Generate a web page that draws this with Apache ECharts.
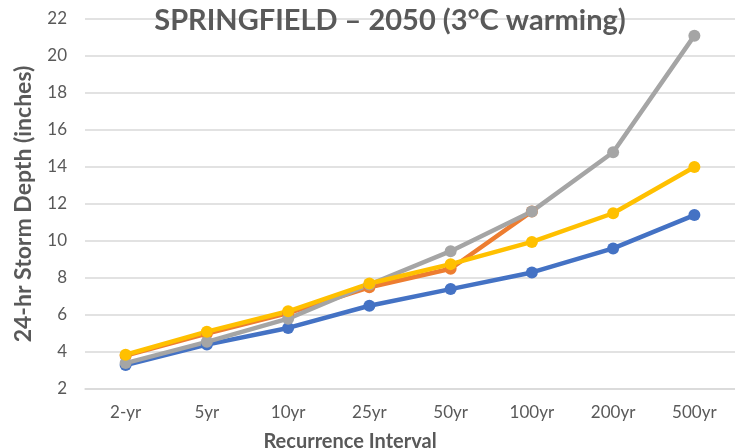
<!DOCTYPE html>
<html>
<head>
<meta charset="utf-8">
<script src="https://cdn.jsdelivr.net/npm/echarts@6/dist/echarts.min.js"></script>
<style>
  html, body { margin: 0; padding: 0; background: #fff; }
  #chart { width: 735px; height: 448px; }
</style>
</head>
<body>
<div id="chart"></div>
<script>
// Recurrence intervals on the category axis
const intervals = ['2-yr', '5yr', '10yr', '25yr', '50yr', '100yr', '200yr', '500yr'];

// 24-hr storm depth (inches) for each scenario
const seriesBlue   = [3.3, 4.4, 5.3, 6.5, 7.4, 8.3, 9.6, 11.4];
const seriesOrange = [3.8, 5.0, 6.1, 7.5, 8.5, 11.6, null, null];
const seriesGray   = [3.4, 4.55, 5.8, 7.65, 9.45, 11.6, 14.8, 21.1];
const seriesYellow = [3.85, 5.1, 6.2, 7.7, 8.75, 9.95, 11.5, 14.0];

const yTicks = { min: 2, max: 22, step: 2 };

const FONT = 'Lato, "Open Sans", sans-serif';
const TEXT = '#595959';

function lineSeries(name, data, color) {
  return {
    name: name,
    type: 'line',
    data: data,
    symbol: 'circle',
    symbolSize: 12,
    lineStyle: { width: 4.5, color: color },
    itemStyle: { color: color },
    connectNulls: false,
    animation: false
  };
}

const chart = echarts.init(document.getElementById('chart'), null, { renderer: 'canvas' });
chart.setOption({
  backgroundColor: '#ffffff',
  title: [
    {
      text: 'SPRINGFIELD \u2013 2050 (3\u00B0C warming)',
      left: 385, top: 1, textAlign: 'center',
      textStyle: { fontFamily: FONT, fontSize: 29, fontWeight: 'bold', color: TEXT }
    },
    {
      text: 'Recurrence Interval',
      left: 345, top: 427, textAlign: 'center',
      textStyle: { fontFamily: FONT, fontSize: 20, fontWeight: 'bold', color: TEXT }
    }
  ],
  grid: { left: 85, top: 19, width: 666, bottom: 59, containLabel: false },
  xAxis: {
    type: 'category',
    data: intervals,
    boundaryGap: true,
    axisLine: { show: true, lineStyle: { color: '#d9d9d9', width: 1.5 } },
    axisTick: { show: false },
    axisLabel: { fontFamily: FONT, fontSize: 17, color: TEXT, margin: 15 }
  },
  yAxis: {
    type: 'value',
    min: yTicks.min, max: yTicks.max, interval: yTicks.step,
    name: '24-hr Storm Depth (inches)',
    nameLocation: 'middle',
    nameGap: 50,
    nameTextStyle: { fontFamily: FONT, fontSize: 23, fontWeight: 'bold', color: TEXT },
    axisLine: { show: false },
    axisTick: { show: false },
    axisLabel: { fontFamily: FONT, fontSize: 17, color: TEXT, margin: 18 },
    splitLine: { lineStyle: { color: '#d9d9d9', width: 1.5 } }
  },
  series: [
    lineSeries('Series 1', seriesBlue, '#4472C4'),
    lineSeries('Series 2', seriesOrange, '#ED7D31'),
    lineSeries('Series 3', seriesGray, '#A5A5A5'),
    lineSeries('Series 4', seriesYellow, '#FFC000')
  ]
});
</script>
</body>
</html>
